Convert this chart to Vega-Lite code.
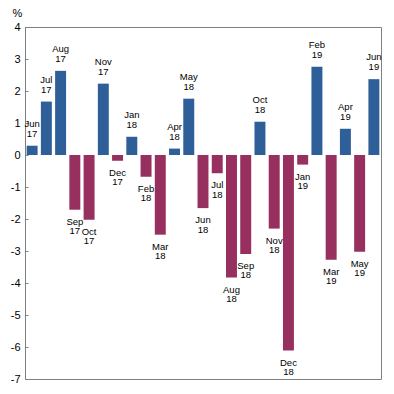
{
  "$schema": "https://vega.github.io/schema/vega-lite/v6.json",
  "width": 356,
  "height": 352,
  "autosize": {"type": "none"},
  "padding": {"left": 25, "top": 27, "right": 13, "bottom": 15},
  "background": "white",
  "config": {
    "view": {"stroke": "#808080", "strokeWidth": 1},
    "font": "Liberation Sans",
    "axis": {"labelFont": "Liberation Sans", "titleFont": "Liberation Sans", "labelOverlap": false},
    "text": {"font": "Liberation Sans", "fontSize": 9.5, "color": "#000000", "baseline": "alphabetic"}
  },
  "data": {
    "values": [
      {"m": "Jun", "y": "17", "v": 0.29},
      {"m": "Jul", "y": "17", "v": 1.67},
      {"m": "Aug", "y": "17", "v": 2.63},
      {"m": "Sep", "y": "17", "v": -1.71},
      {"m": "Oct", "y": "17", "v": -2.02},
      {"m": "Nov", "y": "17", "v": 2.23},
      {"m": "Dec", "y": "17", "v": -0.18},
      {"m": "Jan", "y": "18", "v": 0.57},
      {"m": "Feb", "y": "18", "v": -0.68},
      {"m": "Mar", "y": "18", "v": -2.49},
      {"m": "Apr", "y": "18", "v": 0.2},
      {"m": "May", "y": "18", "v": 1.76},
      {"m": "Jun", "y": "18", "v": -1.66},
      {"m": "Jul", "y": "18", "v": -0.57},
      {"m": "Aug", "y": "18", "v": -3.83},
      {"m": "Sep", "y": "18", "v": -3.09},
      {"m": "Oct", "y": "18", "v": 1.04},
      {"m": "Nov", "y": "18", "v": -2.3},
      {"m": "Dec", "y": "18", "v": -6.11},
      {"m": "Jan", "y": "19", "v": -0.3},
      {"m": "Feb", "y": "19", "v": 2.76},
      {"m": "Mar", "y": "19", "v": -3.27},
      {"m": "Apr", "y": "19", "v": 0.82},
      {"m": "May", "y": "19", "v": -3.02},
      {"m": "Jun", "y": "19", "v": 2.37}
    ]
  },
  "transform": [
    {"calculate": "datum.m + ' ' + datum.y", "as": "key"}
  ],
  "encoding": {
    "x": {
      "field": "key",
      "type": "nominal",
      "sort": null,
      "scale": {"paddingInner": 0.23, "paddingOuter": 0.115},
      "axis": null
    },
    "y": {
      "field": "v",
      "type": "quantitative",
      "scale": {"domain": [-7, 4], "nice": false},
      "axis": {
        "values": [-7, -6, -5, -4, -3, -2, -1, 0, 1, 2, 3, 4],
        "labelExpr": "toString(datum.value)",
        "grid": false,
        "domain": true,
        "domainColor": "#808080",
        "tickColor": "#808080",
        "tickSize": -3,
        "labelPadding": 8,
        "labelOverlap": false,
        "labelFontSize": 11,
        "labelColor": "#000000",
        "title": "%",
        "titleAngle": 0,
        "titleFontSize": 11,
        "titleFontWeight": "normal",
        "titleColor": "#000000",
        "titleAlign": "center",
        "titleBaseline": "alphabetic",
        "titleX": -8,
        "titleY": -11
      }
    }
  },
  "layer": [
    {
      "mark": {"type": "bar"},
      "encoding": {
        "y2": {"datum": 0},
        "color": {
          "condition": {"test": "datum.v >= 0", "value": "#2F5F98"},
          "value": "#98305F"
        }
      }
    },
    {
      "mark": {"type": "rule", "color": "#808080", "strokeWidth": 1},
      "encoding": {"y": {"datum": 0}}
    },
    {
      "transform": [{"filter": "datum.v >= 0"}],
      "mark": {"type": "text", "dy": -19},
      "encoding": {"text": {"field": "m"}}
    },
    {
      "transform": [{"filter": "datum.v >= 0"}],
      "mark": {"type": "text", "dy": -9},
      "encoding": {"text": {"field": "y"}}
    },
    {
      "transform": [{"filter": "datum.v < 0"}],
      "mark": {"type": "text", "dy": 15},
      "encoding": {"text": {"field": "m"}}
    },
    {
      "transform": [{"filter": "datum.v < 0"}],
      "mark": {"type": "text", "dy": 24.5},
      "encoding": {"text": {"field": "y"}}
    }
  ]
}
